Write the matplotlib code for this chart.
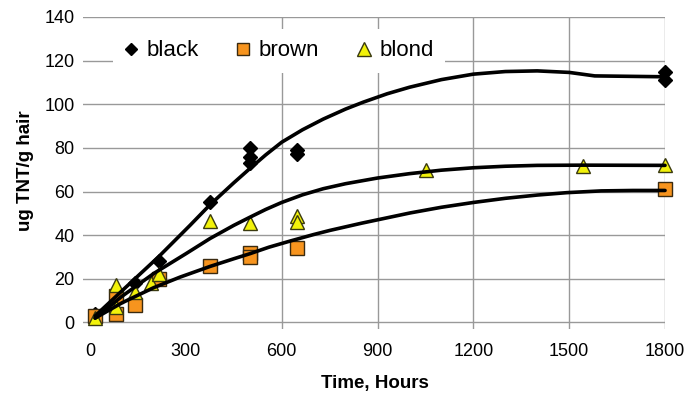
import matplotlib
matplotlib.use("Agg")
import matplotlib.pyplot as plt

plt.rcParams['font.family'] = ['Liberation Sans', 'DejaVu Sans']

# Mesures (ug TNT / g cheveu) en fonction du temps (heures)
black_t = [16, 80, 140, 216, 376, 500, 500, 500, 647, 647, 1800, 1800]
black_v = [4, 11, 18, 28, 55, 80, 76, 73, 79, 77, 115, 111]

brown_t = [16, 80, 80, 140, 216, 376, 500, 500, 647, 1800]
brown_v = [3, 12, 4, 8, 20, 26, 32, 30, 34, 61]

blond_t = [16, 80, 80, 140, 190, 216, 376, 500, 647, 647, 1052, 1544, 1800]
blond_v = [2, 17, 7, 14, 18, 22, 46.5, 45.5, 49, 46, 70, 71.5, 72]

# Courbes de tendance
black_fit_t = [16, 100, 214, 313, 376, 450, 500, 550, 600, 665, 730, 800, 856, 930,
               1000, 1100, 1200, 1300, 1400, 1500, 1580, 1800]
black_fit_v = [3, 14.5, 30, 44.5, 54, 64, 70.5, 76.8, 82.6, 88.3, 93.2, 97.8, 101, 104.8,
               107.8, 111.3, 113.8, 115, 115.3, 114.6, 113, 112.6]

blond_fit_t = [16, 100, 200, 300, 376, 450, 500, 550, 600, 665, 730, 800, 900, 1000,
               1100, 1200, 1300, 1400, 1544, 1800]
blond_fit_v = [2, 12, 22.5, 31.5, 38.5, 44.5, 48.2, 51.8, 55, 58.5, 61.3, 63.6, 66.2, 68.2,
               69.8, 70.9, 71.6, 72, 72.1, 72]

brown_fit_t = [16, 100, 200, 282, 376, 450, 500, 560, 626, 700, 751, 850, 1002, 1100,
               1200, 1300, 1400, 1493, 1600, 1700, 1800]
brown_fit_v = [2, 9, 16, 20.8, 25.7, 29.2, 31.5, 34.5, 37.3, 40.3, 42.2, 45.5, 50.2, 52.8,
               55, 56.9, 58.4, 59.5, 60.3, 60.5, 60.5]

x_ticks = [0, 300, 600, 900, 1200, 1500, 1800]
y_ticks = [0, 20, 40, 60, 80, 100, 120, 140]

fig = plt.figure(figsize=(6.99, 3.95), dpi=100)
ax = fig.add_axes([0.1187, 0.167, 0.8327, 0.790])

# Points
ax.plot(black_t, black_v, linestyle='none', marker='D', ms=7, color='black',
        mec='black', label='black', clip_on=False, zorder=3)
ax.plot(brown_t, brown_v, linestyle='none', marker='s', ms=9.5, color='#f7941e',
        mec='#3a2a10', mew=1, label='brown', clip_on=False, zorder=3)
ax.plot(blond_t, blond_v, linestyle='none', marker='^', ms=10.5, color='#f2f20a',
        mec='#3a3a10', mew=1, label='blond', clip_on=False, zorder=3)

# Courbes de tendance (au-dessus des points)
for t, v in [(black_fit_t, black_fit_v), (blond_fit_t, blond_fit_v), (brown_fit_t, brown_fit_v)]:
    ax.plot(t, v, color='black', lw=2.6, solid_capstyle='round', solid_joinstyle='round',
            clip_on=False, zorder=4)

ax.set_xlim(-22, 1800)
ax.set_ylim(-3, 140)
ax.set_xticks(x_ticks)
ax.set_yticks(y_ticks)
ax.tick_params(axis='both', length=0, labelsize=13)
ax.tick_params(axis='x', pad=10)
ax.tick_params(axis='y', pad=6)

ax.grid(True, color='#999999', lw=1.0)
ax.set_axisbelow(True)
# pas de lignes verticales a 0 et 300
for gl in ax.get_xgridlines()[:2]:
    gl.set_visible(False)

for s in ax.spines.values():
    s.set_visible(False)

ax.set_xlabel('Time, Hours', fontsize=13.5, fontweight='bold')
ax.set_ylabel('ug TNT/g hair', fontsize=13.5, fontweight='bold')
ax.xaxis.set_label_coords(0.502, -0.147)
ax.yaxis.set_label_coords(-0.084, 0.506)

leg = ax.legend(loc='center', bbox_to_anchor=(0.337, 0.891), ncol=3, fontsize=16,
                frameon=True, handlelength=0.6, handletextpad=0.4,
                columnspacing=1.7, borderpad=0.5, fancybox=False)
leg.get_frame().set_facecolor('white')
leg.get_frame().set_edgecolor('none')
leg.get_frame().set_alpha(1)
for h in leg.legend_handles:
    h.set_markersize(h.get_markersize() * 0.9)

fig.savefig('out.png', dpi=100)
